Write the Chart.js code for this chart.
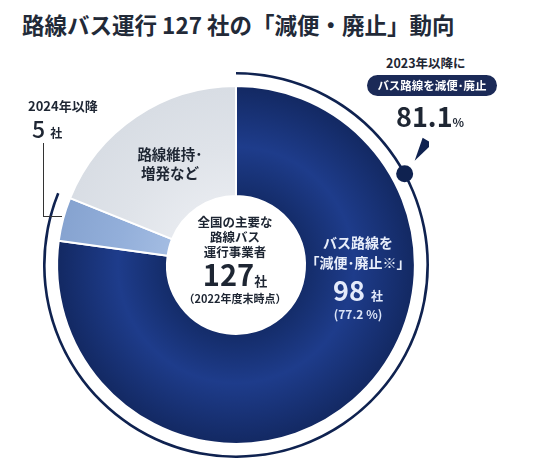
<!DOCTYPE html>
<html lang="ja">
<head>
  <meta charset="UTF-8" />
  <title>路線バス運行127社の「減便・廃止」動向</title>
  <script src="https://cdn.jsdelivr.net/npm/chart.js"></script>
  <style>
    body {
      margin: 0;
      width: 539px;
      height: 463px;
      position: relative;
      overflow: hidden;
      background: #fff;
      font-family: 'Noto Sans CJK JP', 'Noto Sans', sans-serif;
      color: #1e2633;
    }
    .t { position: absolute; white-space: nowrap; font-weight: bold; }
    #title { left: 22px; top: 8px; font-size: 22.5px; color: #222a38; font-weight: 700; }
    #wrap { position: absolute; left: 43px; top: 72px; width: 386px; height: 386px; }
    .pill {
      position: absolute; left: 367px; top: 75px; width: 130px; height: 21px;
      background: #1b2a57; border-radius: 11px; color: #fff;
      font-size: 11.5px; text-align: center; line-height: 21px; font-weight: bold;
    }
    .bracket {
      position: absolute; left: 43px; top: 143px; width: 18px; height: 73px;
      border-left: 1px solid #333; border-bottom: 1px solid #333;
    }
    .c { text-align: center; }
  </style>
</head>
<body>
  <div id="title" class="t">路線バス運行 127 社の「減便・廃止」動向</div>

  <div id="wrap"><canvas id="grafica"></canvas></div>

  <div class="t" style="left:386px; top:53px; font-size:12.5px;">2023年以降に</div>
  <div class="pill">バス路線を減便･廃止</div>
  <div class="t" style="left:396px; top:96px; font-size:27px; font-weight:600;">81.1<span style="font-size:12px;">%</span></div>

  <div class="t" style="left:28px; top:96px; font-size:13px;">2024年以降</div>
  <div class="t" style="left:32px; top:111px; font-size:23px; font-weight:500;">5 <span style="font-size:12px; font-weight:bold;">社</span></div>
  <div class="bracket"></div>

  <div class="t c" style="left:120px; top:144px; width:100px; font-size:14.5px; line-height:19px;">路線維持･<br>増発など</div>

  <div class="t c" style="left:165px; top:214px; width:140px; font-size:12.5px; line-height:15px;">全国の主要な<br>路線バス<br>運行事業者</div>
  <div class="t c" style="left:165px; top:256px; width:140px; font-size:29px; line-height:34px; font-weight:600;">127<span style="font-size:13px; font-weight:bold;">社</span></div>
  <div class="t c" style="left:165px; top:290px; width:140px; font-size:11px;">（2022年度末時点）</div>

  <div class="t c" style="left:298px; top:232px; width:120px; font-size:14px; line-height:20px; color:#e8eefa;">バス路線を<br>「減便･廃止※」</div>
  <div class="t c" style="left:298px; top:275px; width:120px; font-size:27px; line-height:30px; color:#e4ebfb; font-weight:600;">98 <span style="font-size:12px; font-weight:bold;">社</span></div>
  <div class="t c" style="left:298px; top:305px; width:120px; font-size:12px; color:#dbe4f7;">(77.2 %)</div>

  <script>
    // 路線バス運行事業者 127社 (2022年度末時点)
    const categories = ['2023年以降に減便・廃止', '2024年以降に減便・廃止', '路線維持・増発など'];
    const companies = [98, 5, 24];
    const shares = [77.2, 3.9, 18.9];
    const reducedShare = 81.1; // 2023年以降にバス路線を減便・廃止

    const reducedTotal = companies[0] + companies[1];
    const markerFraction = 0.171;   // position of the dot on the outer arc

    const sliceStops = [
      ['#142c69', '#1e3c8b', '#132963'],
      ['#a3bce2', '#93afda', '#86a3d0'],
      ['#e7eaef', '#dfe3e9', '#d8dde4']
    ];

    function sliceColor(ctx) {
      const stops = sliceStops[ctx.dataIndex] || sliceStops[0];
      const chart = ctx.chart;
      const a = chart.chartArea;
      if (!a) return stops[1];
      const cx = (a.left + a.right) / 2, cy = (a.top + a.bottom) / 2;
      const g = chart.ctx.createRadialGradient(cx, cy, 69, cx, cy, 178);
      g.addColorStop(0, stops[0]);
      g.addColorStop(0.45, stops[1]);
      g.addColorStop(1, stops[2]);
      return g;
    }

    const markerPlugin = {
      id: 'marker',
      afterDatasetsDraw(chart) {
        const arc = chart.getDatasetMeta(0).data[0];
        if (!arc) return;
        const c = chart.ctx;
        const r = arc.outerRadius - 1.2;
        const ang = -Math.PI / 2 + markerFraction * Math.PI * 2;
        const px = arc.x + r * Math.cos(ang);
        const py = arc.y + r * Math.sin(ang);
        c.save();
        c.fillStyle = '#0f2250';
        c.beginPath();
        c.arc(px, py, 8.5, 0, Math.PI * 2);
        c.fill();
        // pointer towards the 81.1% label
        c.beginPath();
        c.moveTo(px + 10, py - 13);
        c.lineTo(px + 18, py - 36);
        c.lineTo(px + 28, py - 30);
        c.closePath();
        c.fill();
        c.restore();
      }
    };

    new Chart(document.getElementById('grafica'), {
      type: 'doughnut',
      data: {
        labels: categories,
        datasets: [
          {
            data: [reducedTotal, companies[2]],
            backgroundColor: ['#0f2250', 'rgba(0,0,0,0)'],
            borderWidth: 0,
            weight: 2.6
          },
          {
            data: [1],
            backgroundColor: 'rgba(0,0,0,0)',
            borderWidth: 0,
            weight: 11.4
          },
          {
            data: companies,
            backgroundColor: sliceColor,
            borderColor: '#ffffff',
            borderWidth: 2,
            weight: 109
          }
        ]
      },
      options: {
        responsive: true,
        maintainAspectRatio: false,
        animation: false,
        cutout: 69,
        rotation: 0,
        layout: { padding: 0 },
        plugins: {
          legend: { display: false },
          tooltip: { enabled: false }
        }
      },
      plugins: [markerPlugin]
    });
  </script>
</body>
</html>
